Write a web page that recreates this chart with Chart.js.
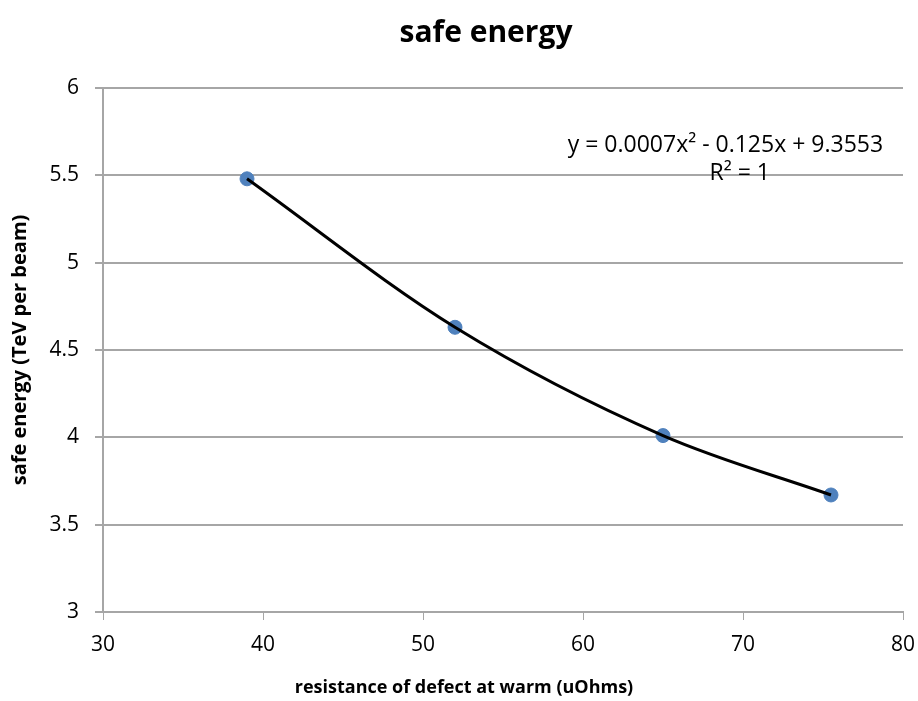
<!DOCTYPE html>
<html>
<head>
<meta charset="utf-8">
<script src="https://cdn.jsdelivr.net/npm/chart.js@4"></script>
<style>
  body { margin: 0; background: #fff; }
  canvas { display: block; }
</style>
</head>
<body>
<canvas id="chart" width="918" height="701"></canvas>
<script>
// values
var resistance = [39, 52, 65, 75.5];
var safeEnergy = [5.48, 4.63, 4.01, 3.67];
var trendText = ['y = 0.0007x\u00b2 - 0.125x + 9.3553', 'R\u00b2 = 1'];
var chartTitle = 'safe energy';
var xTitle = 'resistance of defect at warm (uOhms)';

var pts = resistance.map(function (x, i) { return { x: x, y: safeEnergy[i] }; });

var font = "'Open Sans', 'Liberation Sans', sans-serif";
var grey = '#a6a6a6';

// title, x-axis title (Excel places them a bit off the plot centre) and trendline label
var labelPlugin = {
    id: 'trendLabel',
    afterDraw: function (chart) {
        var c = chart.ctx, xs = chart.scales.x, ys = chart.scales.y;
        c.save();
        c.fillStyle = '#000';
        c.textAlign = 'center';
        c.textBaseline = 'middle';
        c.font = 'bold 30px ' + font;
        c.fillText(chartTitle, 486, 33);
        c.font = 'bold 18px ' + font;
        c.fillText(xTitle, 464, 688);
        c.font = '23px ' + font;
        c.fillText(trendText[0], xs.getPixelForValue(68.9), ys.getPixelForValue(5.67));
        c.fillText(trendText[1], xs.getPixelForValue(69.8), ys.getPixelForValue(5.51));
        c.restore();
    }
};

new Chart(document.getElementById('chart').getContext('2d'), {
    type: 'scatter',
    data: {
        datasets: [{
            label: 'trend',
            data: pts,
            showLine: true,
            cubicInterpolationMode: 'monotone',
            borderColor: '#000',
            borderWidth: 3,
            pointRadius: 0,
            fill: false
        }, {
            label: 'safe energy',
            data: pts,
            backgroundColor: '#4f81bd',
            borderColor: '#4f81bd',
            pointRadius: 7,
            pointHoverRadius: 7
        }]
    },
    options: {
        responsive: false,
        animation: false,
        devicePixelRatio: 1,
        layout: { padding: { left: 0, right: 15, top: 88, bottom: 0 } },
        plugins: {
            legend: { display: false },
            tooltip: { enabled: false },
            title: { display: false }
        },
        scales: {
            x: {
                type: 'linear',
                min: 30, max: 80,
                ticks: { stepSize: 10, color: '#000', padding: 12, font: { family: font, size: 21 } },
                grid: { display: true, drawOnChartArea: false, color: grey, tickLength: 8 },
                border: { color: grey, width: 2 },
                title: { display: false },
                afterFit: function (s) {
                    s.height = 89;
                    s.paddingLeft = 0;
                    s.paddingRight = 0;
                }
            },
            y: {
                min: 3, max: 6,
                ticks: {
                    stepSize: 0.5, color: '#000', padding: 16,
                    font: { family: font, size: 21 },
                    callback: function (v) { return String(v); }
                },
                grid: { color: grey, lineWidth: 2, tickLength: 8 },
                border: { color: grey, width: 2 },
                title: {
                    display: true,
                    text: 'safe energy (TeV per beam)',
                    color: '#000',
                    font: { family: font, size: 20, weight: 'bold' },
                    padding: { top: 8, bottom: 4 }
                },
                afterFit: function (s) {
                    s.width = 103;
                    s.paddingTop = 0;
                    s.paddingBottom = 0;
                }
            }
        }
    },
    plugins: [labelPlugin]
});
</script>
</body>
</html>
